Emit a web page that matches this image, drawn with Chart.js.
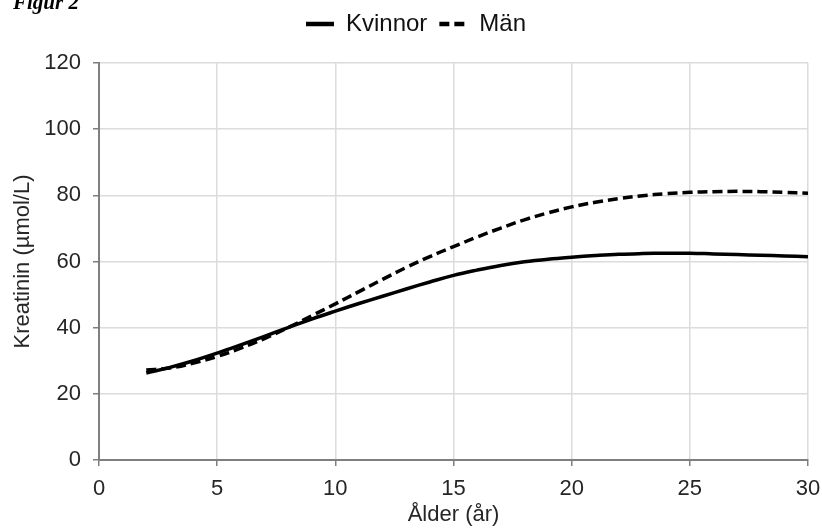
<!DOCTYPE html>
<html>
<head>
<meta charset="utf-8">
<script src="https://cdn.jsdelivr.net/npm/chart.js@4/dist/chart.umd.min.js"></script>
<style>
  html, body { margin: 0; padding: 0; background: #fff; }
  #wrap { position: relative; width: 822px; height: 528px; overflow: hidden; }
  #fig { position: absolute; left: 13px; top: -10px; font: italic bold 21px "Liberation Serif", "DejaVu Serif", serif; color: #000; }
</style>
</head>
<body>
<div id="wrap">
  <div id="fig">Figur 2</div>
  <canvas id="chart" width="822" height="528"></canvas>
</div>
<script>
// ålder i år
const ages = [2, 3, 4, 5, 6, 7, 8, 9, 10, 11, 12, 13, 14, 15, 16, 17, 18, 19, 20, 21, 22, 23, 24, 25, 26, 27, 28, 29, 30];
const kvinnor = [26.3, 28, 30, 32.3, 34.8, 37.4, 40, 42.6, 45, 47.3, 49.5, 51.7, 53.8, 55.8, 57.4, 58.8, 59.9, 60.7, 61.3, 61.8, 62.2, 62.4, 62.5, 62.5, 62.3, 62.1, 61.9, 61.7, 61.4];
const man = [27.2, 27.8, 29.3, 31.3, 33.8, 36.7, 40, 43.6, 47.2, 50.9, 54.6, 58.2, 61.5, 64.5, 67.4, 70.1, 72.6, 74.7, 76.5, 77.9, 79, 79.9, 80.5, 80.9, 81.1, 81.2, 81.1, 80.9, 80.6];

const toPoints = vals => vals.map((v, i) => ({ x: ages[i], y: v }));
const font22 = { family: "'Liberation Sans', Arial, sans-serif", size: 22 };

// legend gets a fixed height so the plot starts where the original does,
// and is nudged a little to the right like in the original
const legendHeight = {
  id: 'legendHeight',
  beforeInit(chart) {
    const fit = chart.legend.fit;
    chart.legend.fit = function () {
      fit.call(this);
      this.height = 63;
    };
  },
  afterLayout(chart) {
    chart.legend.left += 12;
    chart.legend.right += 12;
  }
};

new Chart(document.getElementById('chart'), {
  type: 'line',
  data: {
    datasets: [
      {
        label: 'Kvinnor',
        data: toPoints(kvinnor),
        borderColor: '#000',
        backgroundColor: '#000',
        borderWidth: 3.5,
        pointRadius: 0,
        tension: 0.4
      },
      {
        label: 'Män',
        data: toPoints(man),
        borderColor: '#000',
        backgroundColor: '#000',
        borderWidth: 3.5,
        borderDash: [10, 5],
        pointRadius: 0,
        tension: 0.4
      }
    ]
  },
  options: {
    responsive: false,
    animation: false,
    layout: { padding: { left: 0, right: 14, top: 0, bottom: 0 } },
    plugins: {
      legend: {
        position: 'top',
        labels: {
          usePointStyle: true,
          pointStyle: 'line',
          pointStyleWidth: 28,
          color: '#111',
          font: { family: "'Liberation Sans', Arial, sans-serif", size: 24 },
          padding: 12,
          generateLabels: chart => {
            const items = Chart.defaults.plugins.legend.labels.generateLabels(chart);
            items.forEach(it => {
              const ds = chart.data.datasets[it.datasetIndex];
              it.lineDash = ds.borderDash || [];
              it.lineWidth = 4.5;
            });
            return items;
          }
        }
      },
      tooltip: { enabled: false }
    },
    scales: {
      x: {
        type: 'linear',
        min: 0,
        max: 30,
        ticks: { stepSize: 5, color: '#262626', font: font22, padding: 10 },
        grid: { color: '#dcdcdc', tickColor: '#7f7f7f', tickLength: 6, lineWidth: 1.5 },
        border: { color: '#7f7f7f', width: 2 },
        title: { display: true, text: 'Ålder (år)', color: '#262626', font: font22, padding: { top: 0, bottom: 0 } },
        afterFit: s => { s.height = 68; s.paddingLeft = 0; s.paddingRight = 0; }
      },
      y: {
        min: 0,
        max: 120,
        ticks: { stepSize: 20, color: '#262626', font: font22, padding: 12 },
        grid: { color: '#dcdcdc', tickColor: '#7f7f7f', tickLength: 6, lineWidth: 1.5 },
        border: { color: '#7f7f7f', width: 2 },
        title: { display: true, text: 'Kreatinin (µmol/L)', color: '#262626', font: font22, padding: { top: 10, bottom: 0 } },
        afterFit: s => { s.width = 99; }
      }
    }
  },
  plugins: [legendHeight]
});
</script>
</body>
</html>
